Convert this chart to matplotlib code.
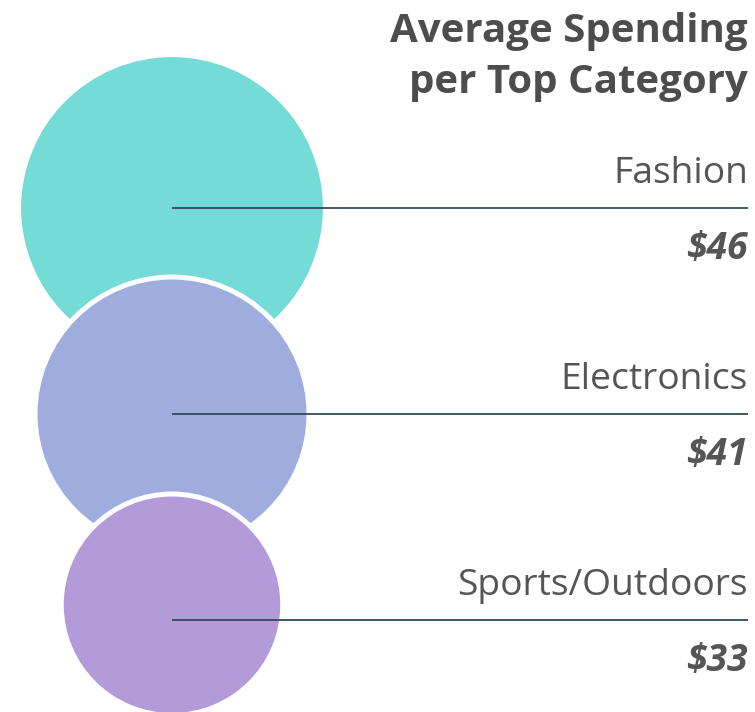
import matplotlib
matplotlib.use("Agg")
import matplotlib.pyplot as plt
from matplotlib.patches import Circle

categories = ["Fashion", "Electronics", "Sports/Outdoors"]
spending = [46, 41, 33]
value_labels = ["$46", "$41", "$33"]
colors = ["#74DBD7", "#9EADDE", "#B39BDA"]

W, H = 755, 712
plt.rcParams['font.family'] = ['Open Sans', 'DejaVu Sans']

fig = plt.figure(figsize=(W / 100, H / 100), dpi=100)
ax = fig.add_axes([0, 0, 1, 1])
ax.set_xlim(0, W)
ax.set_ylim(H, 0)
ax.set_aspect('equal')
ax.axis('off')

# pixels per dollar for radius, row spacing for the guide lines
k = 3.28
cx = 172
row_y = [208, 414, 620]
stroke = 5

for i, (cat, val, lab, col) in enumerate(zip(categories, spending, value_labels, colors)):
    r = val * k
    # keep the circle inside the chart
    cy = min(row_y[i], H + 1 - r)
    ax.add_patch(Circle((cx, cy), r + stroke / 2, facecolor=col, edgecolor='white',
                        linewidth=stroke * 0.72, zorder=2 + i))

for i, (cat, lab) in enumerate(zip(categories, value_labels)):
    y = row_y[i]
    ax.plot([cx, 748], [y, y], color='#2f4a5c', linewidth=1.3, zorder=10,
            solid_capstyle='butt')
    ax.text(748, y - 25, cat, ha='right', va='baseline', fontsize=26.8,
            color='#555555', zorder=11)
    ax.text(748, y + 51, lab, ha='right', va='baseline', fontsize=26.8,
            fontweight='bold', fontstyle='italic', color='#555555', zorder=11)

ax.text(748, 42, "Average Spending", ha='right', va='baseline', fontsize=29,
        fontweight='bold', color='#4d4d4d')
ax.text(748, 93, "per Top Category", ha='right', va='baseline', fontsize=29,
        fontweight='bold', color='#4d4d4d')

fig.savefig("out.png", dpi=100)
